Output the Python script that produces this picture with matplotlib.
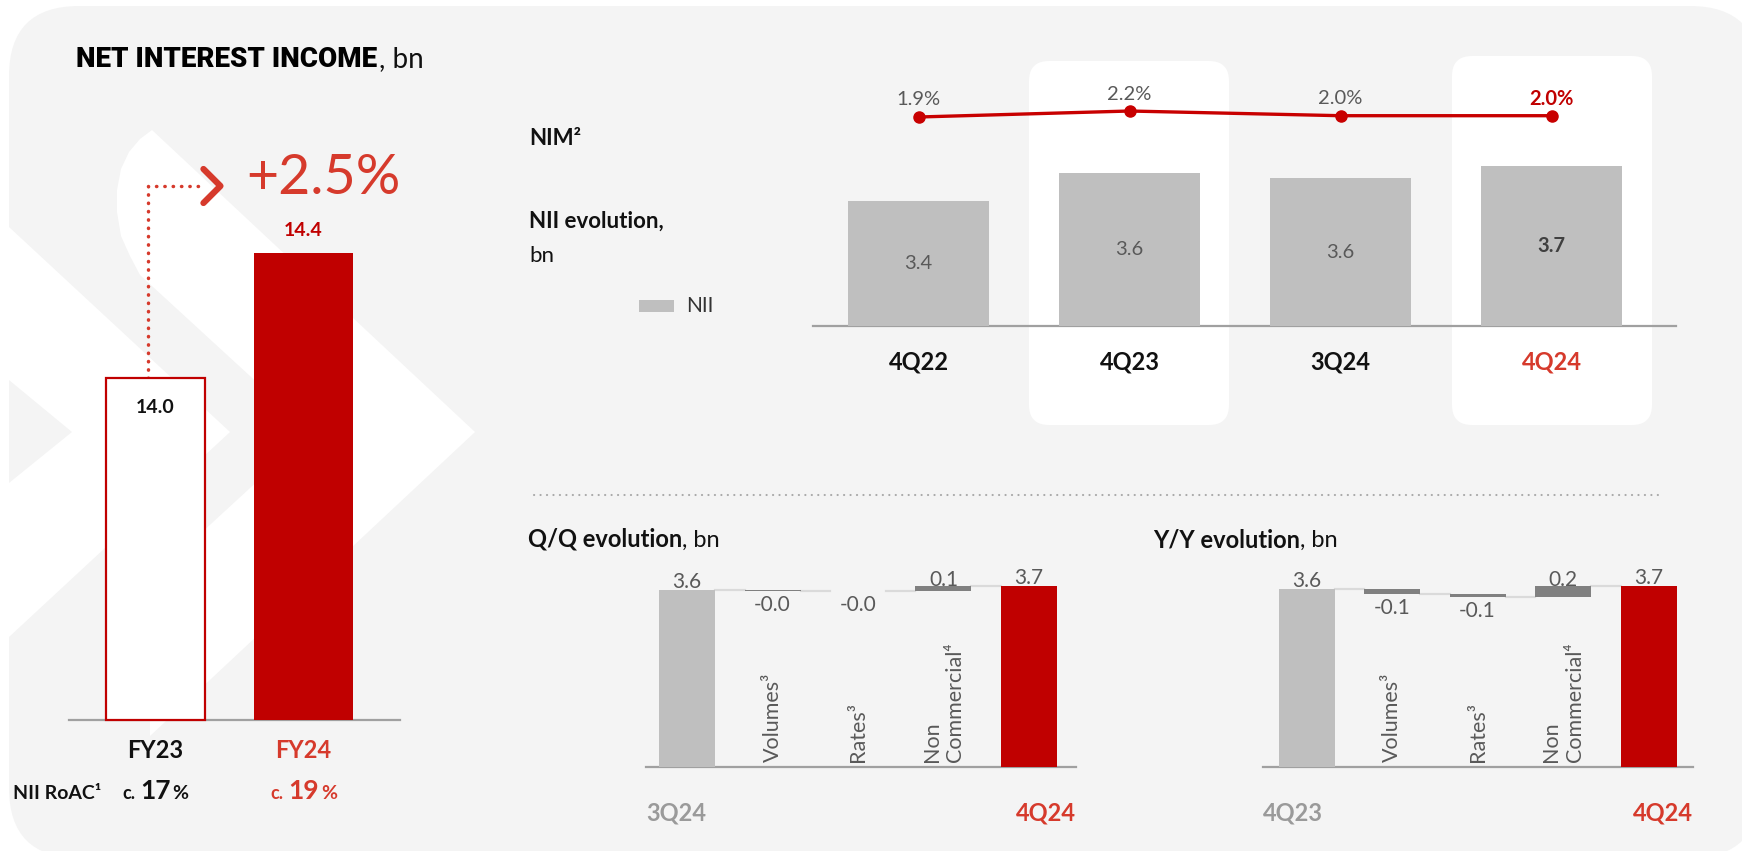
import matplotlib
matplotlib.use("Agg")
import matplotlib.pyplot as plt
from matplotlib.patches import FancyBboxPatch, Polygon, Rectangle
import numpy as np

plt.rcParams['font.family'] = ['Lato', 'DejaVu Sans']

# ============================================================================
# DATA
# ============================================================================

fy_years = ['FY23', 'FY24']
fy_nii = [14.0, 14.4]
fy_growth = '+2.5%'
roac_pct = ['17', '19']

quarters = ['4Q22', '4Q23', '3Q24', '4Q24']
nii_quarter = [3.40, 3.65, 3.60, 3.71]
nim_quarter = [1.93, 2.16, 1.98, 1.98]

step_names = ['Volumes³', 'Rates³', 'Non\nCommercial⁴']

qq_ends = ['3Q24', '4Q24']
qq_totals = [3.61, 3.70]
qq_steps = [-0.01, -0.01, 0.11]

yy_ends = ['4Q23', '4Q24']
yy_totals = [3.64, 3.70]
yy_steps = [-0.10, -0.06, 0.22]

# ============================================================================
# STYLE
# ============================================================================

PANEL = '#f4f4f4'
BAR_GRAY = '#bfbfbf'
DELTA_GRAY = '#808080'
LINK_GRAY = '#dadada'
AXIS_GRAY = '#a0a0a0'
RED_BAR = '#c00000'
RED_TXT = '#d63a2c'
TXT_GRAY = '#595959'
BLACK = '#111111'

W, H = 1742, 851


def pt(px):
    """pixels -> points at dpi 100"""
    return px * 0.72


fig = plt.figure(figsize=(W / 100, H / 100), dpi=100)
fig.patch.set_facecolor('white')

# background axes in pixel coordinates (y goes down)
bg = fig.add_axes([0, 0, 1, 1])
bg.set_xlim(0, W)
bg.set_ylim(H, 0)
bg.axis('off')


def px_axes(x0, y0, x1, y1):
    ax = fig.add_axes([x0 / W, 1 - y1 / H, (x1 - x0) / W, (y1 - y0) / H])
    ax.patch.set_alpha(0)
    ax.axis('off')
    return ax


def to_bg(ax, x, y):
    dx, dy = ax.transData.transform((x, y))
    return dx, H - dy


def text_run(x, y, parts, ha='left'):
    """Place several text pieces side by side on one baseline."""
    renderer = fig.canvas.get_renderer()
    items = []
    for s, kw, gap in parts:
        t = bg.text(0, y, s, va='baseline', ha='left', **kw)
        items.append((t, t.get_window_extent(renderer).width + gap))
    total = sum(w for _, w in items)
    cur = x - total / 2 if ha == 'center' else x
    for t, w in items:
        t.set_x(cur)
        cur += w


# ---------------------------------------------------------------------------
# panel and decorative chevrons
# ---------------------------------------------------------------------------
bg.add_patch(FancyBboxPatch((9, 6), 1760 - 9, 858 - 6,
                            boxstyle='round,pad=0,rounding_size=70',
                            fc=PANEL, ec='none', zorder=0))

chev_a = [(9, 227), (230, 432), (9, 637), (9, 483), (72, 432), (9, 380)]
chev_b = [(152, 130), (140, 139), (129, 152), (121, 169), (117, 190),
          (117, 212), (121, 236), (130, 256), (140, 275), (311, 432),
          (150, 580), (150, 736), (475, 432)]
for pts in (chev_a, chev_b):
    bg.add_patch(Polygon(pts, closed=True, fc='white', ec='none', zorder=1))

# highlight boxes behind 4Q23 / 4Q24
for x0, y0 in [(1029, 61), (1452, 56)]:
    bg.add_patch(FancyBboxPatch((x0, y0), 200, 425 - y0,
                                boxstyle='round,pad=0,rounding_size=20',
                                fc='white', ec='none', zorder=1))

# ---------------------------------------------------------------------------
# LEFT: yearly NII
# ---------------------------------------------------------------------------
text_run(76, 67, [('NET INTEREST INCOME',
                   dict(fontsize=20, fontweight='black', color='black',
                        family=['Roboto', 'Lato', 'DejaVu Sans']), 2),
                  (', bn', dict(fontsize=20, color=BLACK), 0)])

fy_floor = 12.9
ax1 = px_axes(69, 253, 400, 720)
x1 = np.arange(len(fy_years))
ax1.set_xlim(-0.584, 1.652)
ax1.set_ylim(fy_floor, max(fy_nii))
ax1.bar(x1, np.array(fy_nii) - fy_floor, bottom=fy_floor, width=0.669,
        color=['white', RED_BAR], edgecolor=[RED_BAR, RED_BAR],
        linewidth=[1.6, 0], zorder=2, clip_on=False)
ax1.axhline(fy_floor, color=AXIS_GRAY, lw=1.6, zorder=1, clip_on=False)

ax1.annotate(f'{fy_nii[0]:.1f}', (0, fy_nii[0]), xytext=(0, pt(-30)), textcoords='offset points',
             ha='center', va='center', fontsize=14, fontweight='bold', color=BLACK)
ax1.annotate(f'{fy_nii[1]:.1f}', (1, fy_nii[1]), xytext=(0, pt(23)), textcoords='offset points',
             ha='center', va='center', fontsize=14, fontweight='bold', color=RED_BAR)
for i, lab in enumerate(fy_years):
    ax1.annotate(lab, (i, fy_floor), xytext=(0, pt(-30)), textcoords='offset points',
                 ha='center', va='center', fontsize=17, fontweight='bold',
                 color=BLACK if i == 0 else RED_TXT, annotation_clip=False)

bg.text(13, 799, 'NII RoAC¹', va='baseline', ha='left', fontsize=14,
        fontweight='bold', color=BLACK)
for i, p in enumerate(roac_pct):
    cx, _ = to_bg(ax1, i, fy_floor)
    col = BLACK if i == 0 else RED_TXT
    text_run(cx, 799, [('c.', dict(fontsize=13, fontweight='bold', color=col), 5),
                       (p, dict(fontsize=19, fontweight='bold', color=col), 2),
                       ('%', dict(fontsize=14, fontweight='bold', color=col), 0)],
             ha='center')

# growth arrow
ax0, ay0 = to_bg(ax1, 0, fy_nii[0])
_, ay1 = to_bg(ax1, 1, fy_nii[1])
ax_line = ax0 - 7
ay_top = ay1 - 67
bg.plot([ax_line, ax_line, ax_line + 50], [ay0, ay_top, ay_top], color=RED_TXT,
        lw=2.5, linestyle=(0, (0.1, 2.3)), dash_capstyle='round', zorder=3)
bg.plot([ax_line + 55, ax_line + 72, ax_line + 55], [ay_top - 17, ay_top, ay_top + 17],
        color=RED_TXT, lw=4.5, solid_capstyle='round', solid_joinstyle='round', zorder=3)
bg.text(ax_line + 98, ay_top + 8, fy_growth, va='baseline', ha='left', fontsize=40,
        fontweight='normal', color=RED_TXT)

# ---------------------------------------------------------------------------
# TOP RIGHT: quarterly NII and NIM
# ---------------------------------------------------------------------------
text_run(529, 145, [('NIM²', dict(fontsize=16, fontweight='bold', color=BLACK), 0)])
text_run(529, 228, [('NII evolution,', dict(fontsize=16, fontweight='bold', color=BLACK), 0)])
text_run(529, 262, [('bn', dict(fontsize=16, color=BLACK), 0)])

bg.add_patch(Rectangle((639, 300), 35, 12, fc=BAR_GRAY, ec='none', zorder=2))
bg.text(686, 306, 'NII', va='center', ha='left', fontsize=15, color='#333333')

q_floor = 2.27
ax2 = px_axes(813, 56, 1676, 326)
xq = np.arange(len(quarters))
ax2.set_xlim(-0.5, 3.59)
ax2.set_ylim(q_floor, q_floor + 270 / 111)
ax2.bar(xq, nii_quarter, width=0.668, color=BAR_GRAY, zorder=2)
ax2.axhline(q_floor, color=AXIS_GRAY, lw=1.6, zorder=1, clip_on=False)
for i, v in enumerate(nii_quarter):
    last = i == len(quarters) - 1
    ax2.text(i, (q_floor + v) / 2, f'{v:.1f}', ha='center', va='center', fontsize=14.5,
             fontweight='bold' if last else 'normal',
             color='#404040' if last else TXT_GRAY, zorder=3)
    ax2.annotate(quarters[i], (i, q_floor), xytext=(0, pt(-36)), textcoords='offset points',
                 ha='center', va='center', fontsize=17, fontweight='bold',
                 color=RED_TXT if last else BLACK, annotation_clip=False)

ax3 = px_axes(813, 56, 1676, 326)
ax3.set_xlim(ax2.get_xlim())
nim_floor = min(nim_quarter) - (326 - 117) / 26
ax3.set_ylim(nim_floor, nim_floor + 270 / 26)
ax3.plot(xq, nim_quarter, color='#c80000', lw=2.4, marker='o', ms=8, zorder=4)
for i, v in enumerate(nim_quarter):
    last = i == len(quarters) - 1
    ax3.annotate(f'{v:.1f}%', (i, v), xytext=(0, pt(17)), textcoords='offset points',
                 ha='center', va='center', fontsize=14.5,
                 fontweight='bold' if last else 'normal',
                 color=RED_BAR if last else TXT_GRAY)

# dotted separator
bg.plot([534, 1664], [495, 495], color='#a8a8a8', lw=1.5,
        linestyle=(0, (0.1, 3)), dash_capstyle='round')


# ---------------------------------------------------------------------------
# BOTTOM: waterfalls
# ---------------------------------------------------------------------------
def draw_waterfall(title, title_x, box, xlim, ends, totals, steps):
    text_run(title_x, 547, [(title, dict(fontsize=17, fontweight='bold', color=BLACK), 0),
                            (', bn', dict(fontsize=17, color=BLACK), 0)])
    ax = px_axes(*box)
    ax.set_xlim(*xlim)
    ax.set_ylim(0, 4.0)
    w = 0.655
    n = len(steps) + 2
    levels = totals[0] + np.concatenate([[0], np.cumsum(steps)])

    ax.bar(0, totals[0], width=w, color=BAR_GRAY, zorder=2)
    for k, s in enumerate(steps):
        ax.bar(k + 1, abs(s), bottom=min(levels[k], levels[k + 1]), width=w,
               color=DELTA_GRAY, zorder=2)
    ax.bar(n - 1, totals[1], width=w, color=RED_BAR, zorder=2)

    # connectors
    after = [totals[0]] + list(levels[1:])
    for k in range(n - 1):
        ax.plot([k + w / 2, k + 1 - w / 2], [after[k], after[k]], color=LINK_GRAY,
                lw=1.6, zorder=1)
    ax.axhline(0, color=AXIS_GRAY, lw=1.6, zorder=1.5, clip_on=False)

    lab = dict(ha='center', va='center', fontsize=15, color=TXT_GRAY, zorder=5)
    ax.annotate(f'{totals[0]:.1f}', (0, totals[0]), xytext=(0, pt(8)),
                textcoords='offset points', **lab)
    ax.annotate(f'{totals[1]:.1f}', (n - 1, totals[1]), xytext=(0, pt(8)),
                textcoords='offset points', **lab)
    for k, s in enumerate(steps):
        if s >= 0:
            ax.annotate(f'{s:.1f}', (k + 1, levels[k + 1]), xytext=(0, pt(6)),
                        textcoords='offset points', **lab)
        else:
            ax.annotate(f'{s:.1f}', (k + 1, levels[k + 1]), xytext=(0, pt(-14)),
                        textcoords='offset points', **lab)
        ax.annotate(step_names[k], (k + 1, 0), xytext=(0, pt(5)), textcoords='offset points',
                    rotation=90, ha='center', va='bottom', multialignment='left',
                    fontsize=15.5, color=TXT_GRAY)

    ax.annotate(ends[0], (0, 0), xycoords='axes fraction', xytext=(0, pt(-46)),
                textcoords='offset points', ha='left', va='center', fontsize=17,
                fontweight='bold', color='#9a9a9a', annotation_clip=False)
    ax.annotate(ends[1], (1, 0), xycoords='axes fraction', xytext=(0, pt(-46)),
                textcoords='offset points', ha='right', va='center', fontsize=17,
                fontweight='bold', color=RED_TXT, annotation_clip=False)


draw_waterfall('Q/Q evolution', 528, (646, 571.4, 1076, 767), (-0.48, 4.55),
               qq_ends, qq_totals, qq_steps)
draw_waterfall('Y/Y evolution', 1153, (1263, 571.4, 1693, 767), (-0.509, 4.52),
               yy_ends, yy_totals, yy_steps)

fig.savefig('out.png', dpi=100, facecolor='white')
